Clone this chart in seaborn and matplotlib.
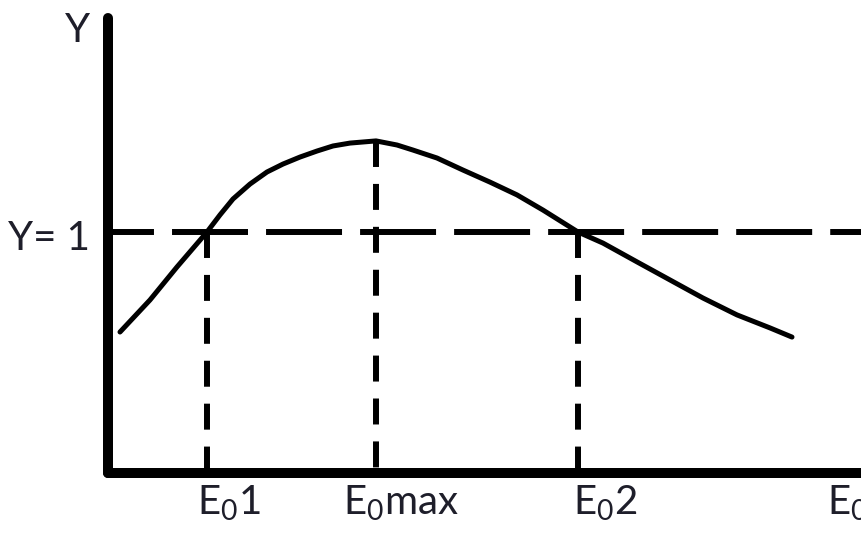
import matplotlib
matplotlib.use("Agg")
import matplotlib.pyplot as plt
import seaborn as sns
import pandas as pd

# Yield curve Y(E0), sketched shape
energy = [0.12, 0.42, 0.69, 0.99, 1.12, 1.25, 1.42, 1.59, 1.75, 1.92, 2.09, 2.25,
          2.42, 2.68, 2.89, 3.05, 3.29, 3.55, 3.82, 4.09, 4.35, 4.70, 4.95,
          5.29, 5.62, 5.95, 6.29, 6.62, 6.84]
yield_y = [0.585, 0.718, 0.855, 1.0, 1.071, 1.137, 1.199, 1.249, 1.282, 1.311, 1.336,
           1.357, 1.369, 1.378, 1.361, 1.340, 1.307, 1.257, 1.207, 1.154, 1.091,
           1.0, 0.954, 0.876, 0.801, 0.726, 0.656, 0.602, 0.564]

# Characteristic energies and the unity-yield level
unity_level = 1.0
e0_1, e0_max, e0_2 = 0.99, 2.68, 4.70
peak_yield = 1.378
guide_x = [e0_1, e0_max, e0_2]
guide_top = [unity_level, peak_yield, unity_level]

# Axis annotation text and their left edges along the energy axis
x_labels = [r"E$_{\mathrm{0}}$1", r"E$_{\mathrm{0}}$max", r"E$_{\mathrm{0}}$2", r"E$_{\mathrm{0}}$"]
x_label_pos = [0.89, 2.35, 4.65, 7.19]
y_axis_label = "Y"
unity_label = "Y= 1"

sns.set_theme(style="white")
plt.rcParams["font.family"] = ["Lato", "DejaVu Sans"]
plt.rcParams["mathtext.fontset"] = "custom"
plt.rcParams["mathtext.rm"] = "Lato"
plt.rcParams["mathtext.it"] = "Lato"
plt.rcParams["lines.scale_dashes"] = False

txt_color = "#1e1e2a"
fs = 29

fig = plt.figure(figsize=(8.62, 5.4), dpi=100)
ax = fig.add_axes([108 / 862, 67 / 540, 754 / 862, 455 / 540])
ax.set_xlim(0, 7.54)
ax.set_ylim(0, 1.888)

df = pd.DataFrame({"E0": energy, "Y": yield_y})
sns.lineplot(data=df, x="E0", y="Y", ax=ax, color="black", linewidth=3.6,
             sort=False, solid_capstyle="round", solid_joinstyle="round", zorder=3)

# Horizontal unity line
ax.plot([0, 7.54], [unity_level, unity_level], color="black", linewidth=4.3,
        linestyle=(21.6, (54.7, 13.0)), dash_capstyle="butt", zorder=2, clip_on=False)

# Vertical guide lines down to the energy axis
for gx, gt in zip(guide_x, guide_top):
    ax.plot([gx, gx], [gt, 0], color="black", linewidth=4.3,
            linestyle=(0, (18.7, 12.2)), dash_capstyle="butt", zorder=2)

for side in ["top", "right"]:
    ax.spines[side].set_visible(False)
for side in ["left", "bottom"]:
    ax.spines[side].set_linewidth(7.2)
    ax.spines[side].set_color("black")
    ax.spines[side].set_capstyle("round")
    ax.spines[side].set_zorder(4)

ax.set_xticks([])
ax.set_yticks([])
ax.set_xlabel("")
ax.set_ylabel("")

for lab, pos in zip(x_labels, x_label_pos):
    ax.text(pos, -0.174, lab, ha="left", va="baseline", fontsize=fs,
            color=txt_color, clip_on=False)

ax.text(-0.30, 1.788, y_axis_label, ha="center", va="baseline", fontsize=fs,
        color=txt_color, clip_on=False)
ax.text(-0.18, 0.925, unity_label, ha="right", va="baseline", fontsize=fs,
        color=txt_color, clip_on=False)

fig.savefig("out.png", dpi=100)
